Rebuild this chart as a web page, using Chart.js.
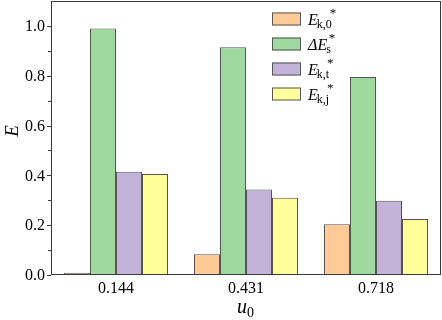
<!DOCTYPE html>
<html lang="en">
<head>
    <meta charset="UTF-8">
    <title>E vs u0</title>
    <style>
        body { margin: 0; background: #fff; }
    </style>
</head>
<body>
    <div style="width: 442px; height: 320px;">
        <canvas id="myChart"></canvas>
    </div>

    <script src="https://cdn.jsdelivr.net/npm/chart.js"></script>
    <script>
        // data
        const v_labels = ["0.144", "0.431", "0.718"];
        const v_ek0 = [0.009, 0.083, 0.204];
        const v_des = [0.990, 0.914, 0.795];
        const v_ekt = [0.415, 0.343, 0.298];
        const v_ekj = [0.405, 0.310, 0.225];
        const v_yTicks = [0.0, 0.2, 0.4, 0.6, 0.8, 1.0];

        // legend texts: main, subscript, superscript
        const v_legendMain = ["E", "\u0394E", "E", "E"];
        const v_legendSub = ["k,0", "s", "k,t", "k,j"];
        const v_legendSup = ["*", "*", "*", "*"];

        const v_colors = ["#fdca98", "#9fd99f", "#c4b3d9", "#ffff9b"];
        const SERIF = "'Liberation Serif', 'DejaVu Serif', serif";

        // frame, ticks, y labels, axis titles and legend with sub/superscripts
        const framePlugin = {
            id: "frame",
            afterDraw(chart) {
                const c = chart.ctx;
                const a = chart.chartArea;
                const y = chart.scales.y;
                c.save();
                c.strokeStyle = "#3a3a3a";
                c.lineWidth = 1;
                c.strokeRect(a.left + 0.5, a.top + 0.5, a.right - a.left - 1, a.bottom - a.top - 1);

                // ticks on the left (major 0.2, minor 0.1)
                for (let i = 0; i <= 10; i++) {
                    const py = Math.round(y.getPixelForValue(i / 10)) + 0.5;
                    const len = (i % 2 == 0) ? 4 : 3;
                    c.beginPath();
                    c.moveTo(a.left, py);
                    c.lineTo(a.left - len, py);
                    c.stroke();
                }

                c.fillStyle = "#000";
                c.font = "16px " + SERIF;
                c.textAlign = "right";
                c.textBaseline = "middle";
                for (let i = 0; i < v_yTicks.length; i++) {
                    c.fillText(v_yTicks[i].toFixed(1), a.left - 6, y.getPixelForValue(v_yTicks[i]) + 1);
                }

                // y title
                c.save();
                c.translate(13, 131);
                c.rotate(-Math.PI / 2);
                c.font = "italic 19px " + SERIF;
                c.textAlign = "center";
                c.textBaseline = "middle";
                c.fillText("E", 0, 0);
                c.restore();

                // x title u0
                c.font = "italic 20px " + SERIF;
                c.textBaseline = "alphabetic";
                c.textAlign = "left";
                c.fillText("u", 237, 313);
                c.font = "14px " + SERIF;
                c.fillText("0", 247, 317);

                // legend
                for (let i = 0; i < v_legendMain.length; i++) {
                    const cy = 19 + i * 25;
                    c.fillStyle = v_colors[i];
                    c.fillRect(272, cy - 6.5, 29, 13);
                    c.strokeStyle = "#555";
                    c.strokeRect(272.5, cy - 6, 28, 12);
                    c.fillStyle = "#000";
                    c.font = "italic 16px " + SERIF;
                    c.fillText(v_legendMain[i], 308, cy + 6);
                    const w = c.measureText(v_legendMain[i]).width;
                    c.font = "12px " + SERIF;
                    c.fillText(v_legendSub[i], 308 + w - 1, cy + 9);
                    const ws = c.measureText(v_legendSub[i]).width;
                    c.font = "13px " + SERIF;
                    c.fillText(v_legendSup[i], 308 + w + Math.max(ws, 4) - 3, cy - 2);
                }
                c.restore();
            }
        };

        const ctx = document.getElementById("myChart");

        const v_series = [v_ek0, v_des, v_ekt, v_ekj];
        const v_datasets = [];
        for (let i = 0; i < v_series.length; i++) {
            v_datasets.push({
                label: v_legendMain[i] + v_legendSub[i],
                data: v_series[i],
                backgroundColor: v_colors[i],
                borderColor: "#555",
                borderWidth: 1,
                categoryPercentage: 0.8,
                barPercentage: 1.0
            });
        }

        let v_chart = new Chart(ctx, {
            type: "bar",
            data: {
                labels: v_labels,
                datasets: v_datasets
            },
            options: {
                responsive: true,
                maintainAspectRatio: false,
                animation: false,
                layout: { padding: { top: 1, right: 1, left: 0, bottom: 0 } },
                plugins: {
                    legend: { display: false },
                    tooltip: { enabled: false }
                },
                scales: {
                    x: {
                        grid: { display: false, drawTicks: false },
                        border: { display: false },
                        ticks: {
                            padding: 4,
                            color: "#000",
                            font: { family: SERIF, size: 16 }
                        },
                        afterFit(scale) { scale.height = 45; }
                    },
                    y: {
                        min: 0,
                        max: 1.1,
                        grid: { display: false, drawTicks: false },
                        border: { display: false },
                        ticks: { display: false },
                        afterFit(scale) { scale.width = 51; }
                    }
                }
            },
            plugins: [framePlugin]
        });
    </script>
</body>
</html>
